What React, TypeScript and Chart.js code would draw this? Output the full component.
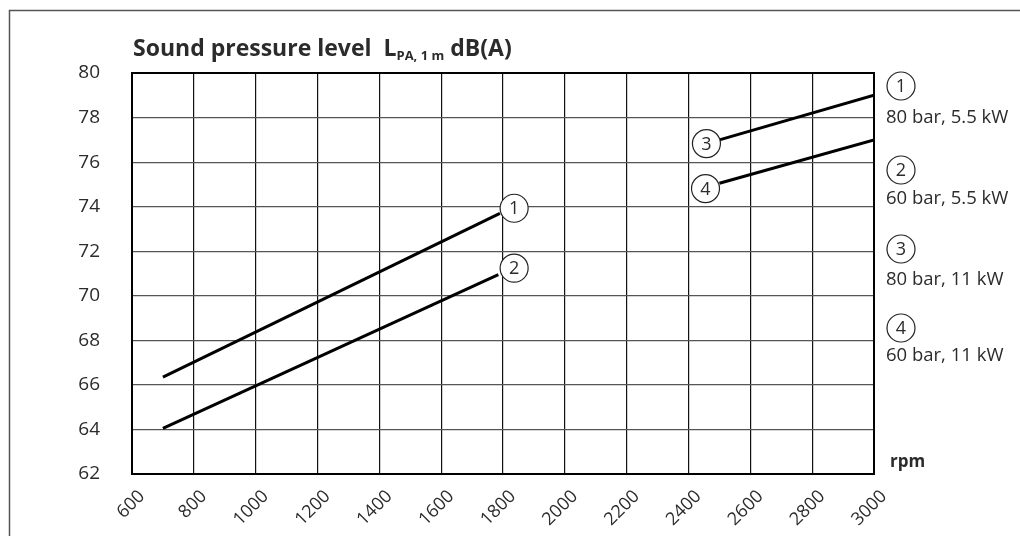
import React, { useEffect, useRef } from "react";
import { Chart, registerables } from "chart.js";

Chart.register(...registerables);

const xTicks = [600, 800, 1000, 1200, 1400, 1600, 1800, 2000, 2200, 2400, 2600, 2800, 3000];
const yTicks = [62, 64, 66, 68, 70, 72, 74, 76, 78, 80];

const series1 = [
  { x: 700, y: 66.35 },
  { x: 1790, y: 73.7 },
];
const series2 = [
  { x: 700, y: 64.05 },
  { x: 1785, y: 70.95 },
];
const series3 = [
  { x: 2500, y: 77.0 },
  { x: 3000, y: 79.0 },
];
const series4 = [
  { x: 2500, y: 75.05 },
  { x: 3000, y: 77.0 },
];

// numbered circle markers next to the curves (data coordinates)
const markerLabels = ["1", "2", "3", "4"];
const markerX = [1836, 1836, 2458, 2455];
const markerY = [73.93, 71.24, 76.83, 74.81];

const legendLabels = ["80 bar, 5.5 kW", "60 bar, 5.5 kW", "80 bar, 11 kW", "60 bar, 11 kW"];

const FONT = "'Open Sans', 'Noto Sans', sans-serif";
const TEXT = "#2b2b2b";

function drawCircleNum(ctx: CanvasRenderingContext2D, cx: number, cy: number, t: string) {
  ctx.save();
  ctx.beginPath();
  ctx.arc(cx, cy, 14, 0, Math.PI * 2);
  ctx.fillStyle = "#ffffff";
  ctx.fill();
  ctx.lineWidth = 1.2;
  ctx.strokeStyle = "#222";
  ctx.stroke();
  ctx.fillStyle = TEXT;
  ctx.font = `18px ${FONT}`;
  ctx.textAlign = "center";
  ctx.textBaseline = "middle";
  ctx.fillText(t, cx, cy + 1);
  ctx.restore();
}

const legendCircleOffsets = [13, 97, 176, 255];
const legendTextOffsets = [45, 126, 207, 283];

const decorPlugin = {
  id: "decor",
  beforeDraw(chart: any) {
    const ctx = chart.ctx as CanvasRenderingContext2D;
    ctx.save();
    ctx.fillStyle = "#ffffff";
    ctx.fillRect(0, 0, chart.width, chart.height);
    ctx.strokeStyle = "#555";
    ctx.lineWidth = 1.5;
    ctx.beginPath();
    ctx.moveTo(9.5, chart.height);
    ctx.lineTo(9.5, 10.5);
    ctx.lineTo(chart.width, 10.5);
    ctx.stroke();
    ctx.restore();
  },
  afterDraw(chart: any) {
    const ctx = chart.ctx as CanvasRenderingContext2D;
    const area = chart.chartArea;
    const xs = chart.scales.x;
    const ys = chart.scales.y;
    ctx.save();
    // plot frame
    ctx.strokeStyle = "#000";
    ctx.lineWidth = 2;
    ctx.strokeRect(area.left, area.top, area.right - area.left, area.bottom - area.top);

    // title
    ctx.fillStyle = TEXT;
    ctx.textBaseline = "alphabetic";
    ctx.textAlign = "left";
    ctx.font = `bold 23px ${FONT}`;
    let x = area.left + 1;
    const by = 56;
    const t1 = "Sound pressure level  L";
    ctx.fillText(t1, x, by);
    x += ctx.measureText(t1).width;
    ctx.font = `bold 13px ${FONT}`;
    const sub = "PA, 1 m";
    ctx.fillText(sub, x, by + 4);
    x += ctx.measureText(sub).width;
    ctx.font = `bold 23px ${FONT}`;
    ctx.fillText(" dB(A)", x, by);

    // rpm
    ctx.font = `bold 17px ${FONT}`;
    ctx.textBaseline = "middle";
    ctx.fillText("rpm", area.right + 16, area.bottom - 12);

    // markers
    for (let i = 0; i < markerLabels.length; i++) {
      drawCircleNum(ctx, xs.getPixelForValue(markerX[i]), ys.getPixelForValue(markerY[i]), markerLabels[i]);
    }

    // legend at right
    const lx = area.right + 12;
    for (let i = 0; i < legendLabels.length; i++) {
      drawCircleNum(ctx, lx + 15, area.top + legendCircleOffsets[i], String(i + 1));
      ctx.fillStyle = TEXT;
      ctx.font = `18.5px ${FONT}`;
      ctx.textAlign = "left";
      ctx.textBaseline = "middle";
      ctx.fillText(legendLabels[i], lx, area.top + legendTextOffsets[i]);
    }
    ctx.restore();
  },
};

export default function App() {
  const ref = useRef<HTMLCanvasElement | null>(null);
  useEffect(() => {
    if (!ref.current) return;
    const lineDs = (d: { x: number; y: number }[]) => ({
      data: d,
      borderColor: "#000",
      borderWidth: 3,
      pointRadius: 0,
      fill: false,
      tension: 0,
    });
    const chart = new Chart(ref.current, {
      type: "line",
      data: {
        datasets: [lineDs(series1), lineDs(series2), lineDs(series3), lineDs(series4)],
      },
      options: {
        animation: false,
        responsive: false,
        devicePixelRatio: 1,
        layout: { padding: { left: 0, top: 73, right: 146, bottom: 0 } },
        plugins: { legend: { display: false }, tooltip: { enabled: false }, title: { display: false } },
        scales: {
          x: {
            type: "linear",
            min: 600,
            max: 3000,
            afterBuildTicks: (s: any) => {
              s.ticks = xTicks.map((v) => ({ value: v }));
            },
            afterFit: (s: any) => {
              s.height = 62;
            },
            grid: { color: "#111", lineWidth: 1.2, drawTicks: false },
            border: { display: false },
            ticks: {
              autoSkip: false,
              maxRotation: 45,
              minRotation: 45,
              padding: 12,
              labelOffset: 10,
              color: TEXT,
              font: { family: FONT, size: 18 },
              callback: (v: any) => String(v),
            },
          },
          y: {
            type: "linear",
            min: 62,
            max: 80,
            afterBuildTicks: (s: any) => {
              s.ticks = yTicks.map((v) => ({ value: v }));
            },
            afterFit: (s: any) => {
              s.width = 132;
            },
            grid: { color: "#555", lineWidth: 1.2, drawTicks: false },
            border: { display: false },
            ticks: {
              padding: 32,
              color: TEXT,
              font: { family: FONT, size: 19 },
              callback: (v: any) => String(v),
            },
          },
        },
      },
      plugins: [decorPlugin],
    });
    return () => chart.destroy();
  }, []);
  return (
    <div style={{ position: "fixed", left: 0, top: 0, width: 1020, height: 536, background: "#fff" }}>
      <canvas ref={ref} width={1020} height={536} style={{ width: 1020, height: 536, display: "block" }} />
    </div>
  );
}
